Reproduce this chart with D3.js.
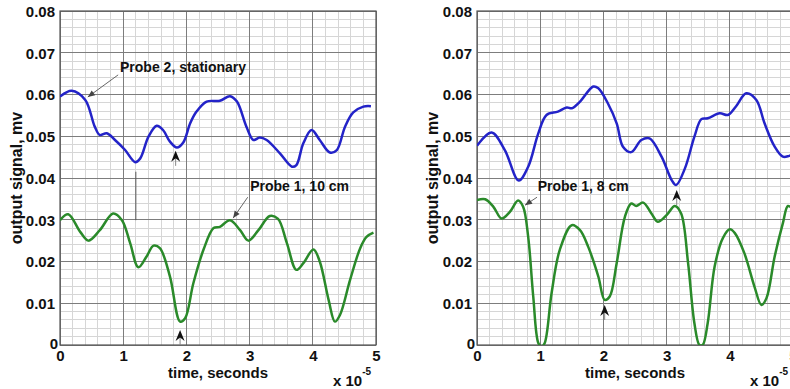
<!DOCTYPE html>
<html>
<head>
<meta charset="utf-8">
<script src="https://cdn.jsdelivr.net/npm/d3@7/dist/d3.min.js"></script>
<style>
  body { margin: 0; background: #fff; }
  svg { display: block; }
  text { font-family: "Liberation Sans Narrow", "Arial Narrow", "Liberation Sans", Arial, sans-serif; font-weight: bold; fill: #111; }
</style>
</head>
<body>
<svg id="chart" width="790" height="389"></svg>
<script>
// ---------- Data (time in units of 1e-5 s, signal in mV) ----------
const xTicks = [0, 1, 2, 3, 4, 5];
const yTicks = [0, 0.01, 0.02, 0.03, 0.04, 0.05, 0.06, 0.07, 0.08];
const yTickLabels = ["0", "0.01", "0.02", "0.03", "0.04", "0.05", "0.06", "0.07", "0.08"];
const xLabel = "time, seconds";
const yLabel = "output signal, mv";

// Left panel: Probe 2 (stationary) and Probe 1 at 10 cm
const leftProbe2T = [0, 0.185, 0.40, 0.55, 0.63, 0.74, 0.87, 1.03, 1.19, 1.27, 1.40, 1.53, 1.63, 1.74, 1.85, 1.95, 2.06, 2.16, 2.32, 2.53, 2.69, 2.80, 2.95, 3.06, 3.16, 3.27, 3.48, 3.67, 3.74, 3.85, 3.98, 4.11, 4.27, 4.38, 4.51, 4.64, 4.80, 4.92];
const leftProbe2V = [0.0595, 0.0609, 0.0587, 0.0523, 0.0503, 0.0507, 0.0491, 0.0467, 0.0438, 0.0447, 0.0499, 0.0525, 0.0515, 0.0487, 0.0473, 0.0485, 0.0531, 0.0559, 0.0583, 0.0585, 0.0596, 0.0583, 0.0523, 0.0491, 0.0497, 0.0491, 0.0459, 0.0427, 0.0431, 0.0483, 0.0515, 0.0491, 0.0461, 0.0467, 0.0523, 0.0557, 0.0571, 0.0572];
const leftProbe1T = [0, 0.13, 0.32, 0.45, 0.63, 0.84, 0.98, 1.11, 1.24, 1.37, 1.48, 1.58, 1.74, 1.90, 1.98, 2.11, 2.27, 2.43, 2.53, 2.69, 2.85, 2.98, 3.14, 3.32, 3.45, 3.59, 3.74, 3.85, 4.01, 4.11, 4.25, 4.35, 4.43, 4.59, 4.75, 4.85, 4.96];
const leftProbe1V = [0.0299, 0.0313, 0.0271, 0.0250, 0.0275, 0.0315, 0.0299, 0.0244, 0.0186, 0.0212, 0.0238, 0.0232, 0.0164, 0.0056, 0.0064, 0.0148, 0.0228, 0.0280, 0.0283, 0.0299, 0.0275, 0.0250, 0.0275, 0.0309, 0.0302, 0.0244, 0.0180, 0.0196, 0.0229, 0.0200, 0.0108, 0.0056, 0.0072, 0.0156, 0.0232, 0.0259, 0.0269];

// Right panel: Probe 2 (stationary) and Probe 1 at 8 cm
const rightProbe2T = [0, 0.23, 0.44, 0.66, 0.81, 0.97, 1.10, 1.28, 1.42, 1.50, 1.63, 1.84, 1.92, 2.07, 2.21, 2.31, 2.44, 2.60, 2.73, 2.92, 3.08, 3.15, 3.29, 3.44, 3.55, 3.65, 3.84, 3.97, 4.10, 4.26, 4.42, 4.55, 4.71, 4.84, 4.94, 5.0];
const rightProbe2V = [0.0477, 0.0509, 0.0467, 0.0394, 0.0427, 0.0507, 0.0551, 0.0559, 0.0569, 0.0567, 0.0583, 0.0619, 0.0615, 0.0579, 0.0531, 0.0475, 0.0462, 0.0491, 0.0495, 0.0451, 0.0395, 0.0383, 0.0423, 0.0499, 0.0541, 0.0543, 0.0555, 0.0551, 0.0572, 0.0603, 0.0587, 0.0531, 0.0475, 0.0451, 0.0453, 0.0456];
const rightProbe1T = [0, 0.13, 0.26, 0.39, 0.52, 0.65, 0.73, 0.81, 0.89, 0.97, 1.02, 1.07, 1.18, 1.31, 1.50, 1.63, 1.76, 1.92, 2.02, 2.10, 2.21, 2.34, 2.44, 2.52, 2.63, 2.76, 2.86, 3.00, 3.13, 3.23, 3.34, 3.44, 3.52, 3.57, 3.65, 3.76, 3.89, 4.00, 4.08, 4.23, 4.39, 4.50, 4.58, 4.71, 4.84, 4.92, 5.0];
const rightProbe1V = [0.0347, 0.0349, 0.0331, 0.0303, 0.0319, 0.0346, 0.0331, 0.0259, 0.0116, 0.0005, -0.0004, 0.0004, 0.0124, 0.0228, 0.0287, 0.0275, 0.0235, 0.0164, 0.0108, 0.0116, 0.0196, 0.0307, 0.0339, 0.0333, 0.0341, 0.0315, 0.0295, 0.0311, 0.0333, 0.0315, 0.0196, 0.0052, 0.0000, 0.0000, 0.0052, 0.0188, 0.0256, 0.0277, 0.0268, 0.0220, 0.0140, 0.0096, 0.0112, 0.0212, 0.0292, 0.0333, 0.0325];

// Annotation texts
const leftLabels = ["Probe 2, stationary", "Probe 1, 10 cm"];
const rightLabels = ["Probe 1, 8 cm"];

// ---------- Drawing ----------
const svg = d3.select("#chart");
const colors = { blue: "#2323c8", green: "#2a8a2a", major: "#7d7d7d", minor: "#d6d6d6", frame: "#555" };

function panel(opts) {
  const x = d3.scaleLinear().domain([0, 5]).range([opts.left, opts.left + 316]);
  const y = d3.scaleLinear().domain([0, 0.08]).range([345, 11]);
  const g = svg.append("g");
  const clipId = "clip" + opts.id;
  svg.append("defs").append("clipPath").attr("id", clipId)
    .append("rect").attr("x", x(0)).attr("y", y(0.08)).attr("width", x(5) - x(0)).attr("height", y(0) - y(0.08));

  // minor grid
  const minorX = d3.range(0, 5.0001, 0.2);
  const minorY = d3.range(0, 0.08001, 0.002);
  g.append("g").selectAll("line").data(minorX).join("line")
    .attr("x1", d => x(d)).attr("x2", d => x(d)).attr("y1", y(0)).attr("y2", y(0.08))
    .attr("stroke", colors.minor).attr("stroke-width", 1).attr("shape-rendering", "crispEdges");
  g.append("g").selectAll("line").data(minorY).join("line")
    .attr("x1", x(0)).attr("x2", x(5)).attr("y1", d => y(d)).attr("y2", d => y(d))
    .attr("stroke", colors.minor).attr("stroke-width", 1).attr("shape-rendering", "crispEdges");
  // major grid
  g.append("g").selectAll("line").data(xTicks).join("line")
    .attr("x1", d => x(d)).attr("x2", d => x(d)).attr("y1", y(0)).attr("y2", y(0.08))
    .attr("stroke", colors.major).attr("stroke-width", 1).attr("shape-rendering", "crispEdges");
  g.append("g").selectAll("line").data(yTicks).join("line")
    .attr("x1", x(0)).attr("x2", x(5)).attr("y1", d => y(d)).attr("y2", d => y(d))
    .attr("stroke", colors.major).attr("stroke-width", 1).attr("shape-rendering", "crispEdges");
  // frame
  g.append("rect").attr("x", x(0)).attr("y", y(0.08)).attr("width", x(5) - x(0)).attr("height", y(0) - y(0.08))
    .attr("fill", "none").attr("stroke", colors.frame).attr("stroke-width", 1.2);

  // axes using d3 axis generators
  const xAxis = d3.axisBottom(x).tickValues(xTicks).tickSize(0).tickPadding(0).tickFormat(d3.format("d"));
  const xa = g.append("g").attr("transform", `translate(0,${y(0)})`).call(xAxis);
  xa.select(".domain").remove();
  xa.selectAll("text").attr("y", 16).attr("dy", 0).style("font-size", "15px").attr("fill", "#111");

  const yAxis = d3.axisLeft(y).tickValues(yTicks).tickSize(0).tickPadding(0).tickFormat((d, i) => yTickLabels[i]);
  const ya = g.append("g").attr("transform", `translate(${x(0) - 5},0)`).call(yAxis);
  ya.select(".domain").remove();
  ya.selectAll("text").attr("dy", "0.35em").style("font-size", "15px").attr("fill", "#111");
  ya.selectAll("text").filter(d => d === 0).attr("x", 3).attr("dy", "0.25em");
  g.selectAll(".tick text").attr("font-family", null).attr("font-size", null);

  // axis titles
  g.append("text").attr("x", (x(0) + x(5)) / 2).attr("y", 378).attr("text-anchor", "middle")
    .style("font-size", "15px").text(xLabel);
  g.append("text").attr("transform", `translate(${opts.yLabelX},${(y(0) + y(0.08)) / 2}) rotate(-90)`)
    .attr("text-anchor", "middle").style("font-size", "16px").text(yLabel);
  const ex = g.append("text").attr("x", x(5) - 43).attr("y", 386).style("font-size", "15px");
  ex.append("tspan").text("x 10");
  ex.append("tspan").attr("dy", -11).style("font-size", "10px").text("-5");

  // lines
  const line = d3.line().x(d => x(d[0])).y(d => y(d[1])).curve(d3.curveCatmullRom.alpha(0.5));
  const series = [
    { t: opts.p2T, v: opts.p2V, c: colors.blue },
    { t: opts.p1T, v: opts.p1V, c: colors.green }
  ];
  g.append("g").attr("clip-path", `url(#${clipId})`).selectAll("path").data(series).join("path")
    .attr("d", s => line(s.t.map((t, i) => [t, s.v[i]])))
    .attr("fill", "none").attr("stroke", s => s.c).attr("stroke-width", 2.5)
    .attr("stroke-linejoin", "round");

  return { g, x, y };
}

function chevron(p, t, v) {
  const cx = p.x(t), cy = p.y(v);
  p.g.append("line").attr("x1", cx).attr("x2", cx).attr("y1", cy + 7).attr("y2", cy + 15)
    .attr("stroke", "#888").attr("stroke-width", 1);
  p.g.append("path")
    .attr("d", `M${cx},${cy} L${cx + 4.5},${cy + 11} L${cx},${cy + 7.5} L${cx - 4.5},${cy + 11} Z`)
    .attr("fill", "#111");
}

function pointer(p, label, tt, vt, t1, v1, t2, v2) {
  p.g.append("text").attr("x", p.x(tt)).attr("y", p.y(vt)).style("font-size", "14px").text(label);
  const x1 = p.x(t1), y1 = p.y(v1), x2 = p.x(t2), y2 = p.y(v2);
  p.g.append("line").attr("x1", x1).attr("y1", y1).attr("x2", x2).attr("y2", y2)
    .attr("stroke", "#666").attr("stroke-width", 1);
  const ang = Math.atan2(y2 - y1, x2 - x1);
  const L = 7, W = 3;
  const bx = x2 - L * Math.cos(ang), by = y2 - L * Math.sin(ang);
  const nx = -Math.sin(ang) * W, ny = Math.cos(ang) * W;
  p.g.append("path").attr("d", `M${x2},${y2} L${bx + nx},${by + ny} L${bx - nx},${by - ny} Z`).attr("fill", "#444");
}

const L = panel({ id: "L", left: 60, yLabelX: 22, p2T: leftProbe2T, p2V: leftProbe2V, p1T: leftProbe1T, p1V: leftProbe1V });
const R = panel({ id: "R", left: 477, yLabelX: 438, p2T: rightProbe2T, p2V: rightProbe2V, p1T: rightProbe1T, p1V: rightProbe1V });

// left annotations
pointer(L, leftLabels[0], 0.95, 0.0654, 0.92, 0.0647, 0.44, 0.0594);
pointer(L, leftLabels[1], 3.01, 0.0369, 2.97, 0.0354, 2.74, 0.0304);
chevron(L, 1.83, 0.0465);
chevron(L, 1.90, 0.0036);
L.g.append("line").attr("x1", L.x(1.2)).attr("x2", L.x(1.2)).attr("y1", L.y(0.0415)).attr("y2", L.y(0.0299))
  .attr("stroke", "#555").attr("stroke-width", 1);

// right annotations
pointer(R, rightLabels[0], 0.96, 0.0369, 0.95, 0.0354, 0.76, 0.0335);
chevron(R, 3.16, 0.0371);
chevron(R, 2.02, 0.0096);
</script>
</body>
</html>
